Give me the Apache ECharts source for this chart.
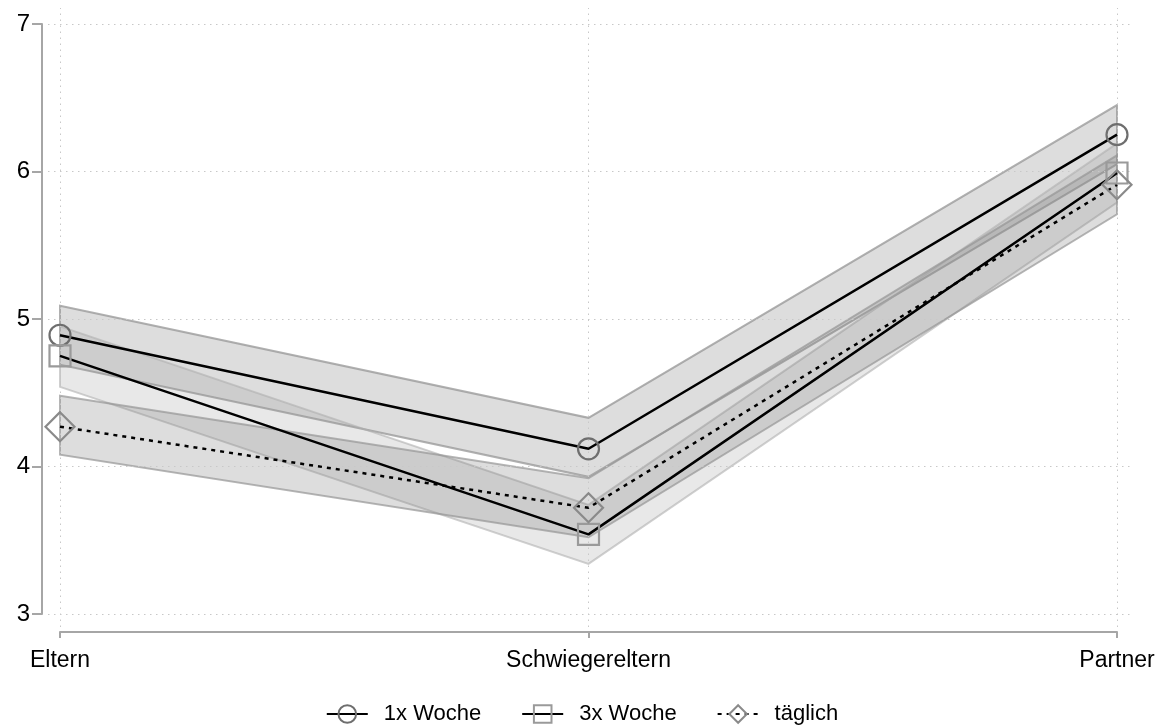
<!DOCTYPE html>
<html>
<head>
<meta charset="utf-8">
<script src="https://cdn.jsdelivr.net/npm/echarts@6/dist/echarts.min.js"></script>
<style>
  html, body { margin: 0; padding: 0; background: #fff; }
  #chart { width: 1164px; height: 727px; }
</style>
</head>
<body>
<div id="chart"></div>
<script>
// Categories and y ticks
const categories = ['Eltern', 'Schwiegereltern', 'Partner'];
const yTicks = [3, 4, 5, 6, 7];
const seriesNames = ['1x Woche', '3x Woche', 'täglich'];

// Point estimates
const woche1 = [4.89, 4.12, 6.25];
const woche3 = [4.75, 3.54, 5.99];
const taeglich = [4.27, 3.72, 5.91];

// Confidence bands (lower, upper)
const woche1Lo = [4.69, 3.93, 6.05];
const woche1Hi = [5.09, 4.33, 6.45];
const woche3Lo = [4.54, 3.34, 5.79];
const woche3Hi = [4.95, 3.74, 6.19];
const taeglichLo = [4.08, 3.52, 5.71];
const taeglichHi = [4.48, 3.92, 6.11];

const chart = echarts.init(document.getElementById('chart'), null, { renderer: 'canvas' });

const FONT = 'Liberation Sans, Arial, Helvetica, sans-serif';
const AXIS_GRAY = '#a6a6a6';
const GRID_GRAY = '#c8c8c8';

function bandSeries(name, lo, hi, fill, stroke) {
  return {
    type: 'custom',
    name: name + ' CI',
    xAxisIndex: 0,
    yAxisIndex: 0,
    silent: true,
    z: 1,
    data: categories.map((c, i) => [i, lo[i], hi[i]]),
    renderItem: function (params, api) {
      if (params.dataIndex !== 0) return null;
      const top = [], bottom = [];
      for (let i = 0; i < categories.length; i++) {
        top.push(api.coord([i, hi[i]]));
        bottom.unshift(api.coord([i, lo[i]]));
      }
      return {
        type: 'polygon',
        shape: { points: top.concat(bottom) },
        style: { fill: fill, stroke: stroke, lineWidth: 2 }
      };
    }
  };
}

function lineSeries(name, data, symbol, size, markerColor, dash) {
  return {
    type: 'line',
    name: name,
    xAxisIndex: 0,
    yAxisIndex: 0,
    data: data,
    z: 5,
    symbol: symbol,
    symbolSize: size,
    showSymbol: true,
    lineStyle: { color: '#000', width: 2.5, type: dash },
    itemStyle: { color: 'rgba(255,255,255,0)', borderColor: markerColor, borderWidth: 2.2 },
    emphasis: { disabled: true },
    animation: false
  };
}

const option = {
  animation: false,
  backgroundColor: '#fff',
  grid: [
    // data area (axes drawn offset from it)
    { left: 60, right: 47, top: 24, bottom: 113, containLabel: false },
    // full plot region for the dotted grid lines
    { left: 48, right: 34, top: 8, bottom: 100, containLabel: false }
  ],
  xAxis: [
    {
      gridIndex: 0,
      type: 'category',
      data: categories,
      boundaryGap: false,
      offset: 18,
      axisLine: { show: true, lineStyle: { color: AXIS_GRAY, width: 2 } },
      axisTick: { show: true, length: 6, alignWithLabel: true, lineStyle: { color: AXIS_GRAY, width: 2 } },
      axisLabel: { color: '#000', fontSize: 23, fontFamily: FONT, margin: 17 },
      splitLine: { show: false }
    },
    {
      gridIndex: 1,
      type: 'value',
      min: -12 / 528.5,
      max: 2 + 13 / 528.5,
      show: false
    }
  ],
  yAxis: [
    {
      gridIndex: 0,
      type: 'value',
      min: 3,
      max: 7,
      interval: 1,
      offset: 18,
      axisLine: { show: true, lineStyle: { color: AXIS_GRAY, width: 2 } },
      axisTick: { show: true, length: 10, lineStyle: { color: AXIS_GRAY, width: 2 } },
      axisLabel: {
        color: '#000', fontSize: 24, fontFamily: FONT, margin: 12,
        formatter: v => (yTicks.indexOf(v) >= 0 ? String(v) : '')
      },
      splitLine: { show: false }
    },
    {
      gridIndex: 1,
      type: 'value',
      min: 3 - 13 / 147.6,
      max: 7 + 16 / 147.6,
      show: false
    }
  ],
  legend: {
    top: 698,
    left: 'center',
    itemWidth: 41,
    itemHeight: 22,
    itemGap: 40,
    textStyle: { color: '#000', fontSize: 22, fontFamily: FONT, padding: [0, 0, 0, 11] },
    data: seriesNames
  },
  series: [
    // dotted grid lines
    {
      type: 'line',
      name: 'grid',
      xAxisIndex: 1,
      yAxisIndex: 1,
      data: [],
      silent: true,
      z: 0,
      markLine: {
        silent: true,
        symbol: 'none',
        label: { show: false },
        lineStyle: { color: GRID_GRAY, width: 1, type: [1.5, 4.5] },
        data: yTicks.map(v => ({ yAxis: v })).concat(categories.map((c, i) => ({ xAxis: i })))
      }
    },
    bandSeries(seriesNames[0], woche1Lo, woche1Hi, 'rgba(128,128,128,0.27)', 'rgba(150,150,150,0.75)'),
    bandSeries(seriesNames[1], woche3Lo, woche3Hi, 'rgba(150,150,150,0.22)', 'rgba(175,175,175,0.6)'),
    bandSeries(seriesNames[2], taeglichLo, taeglichHi, 'rgba(128,128,128,0.27)', 'rgba(150,150,150,0.7)'),
    lineSeries(seriesNames[0], woche1, 'circle', 21, '#6e6e6e', 'solid'),
    lineSeries(seriesNames[1], woche3, 'rect', 21, '#9a9a9a', 'solid'),
    lineSeries(seriesNames[2], taeglich, 'diamond', 29, '#8a8a8a', [4, 5])
  ]
};

chart.setOption(option);
</script>
</body>
</html>
